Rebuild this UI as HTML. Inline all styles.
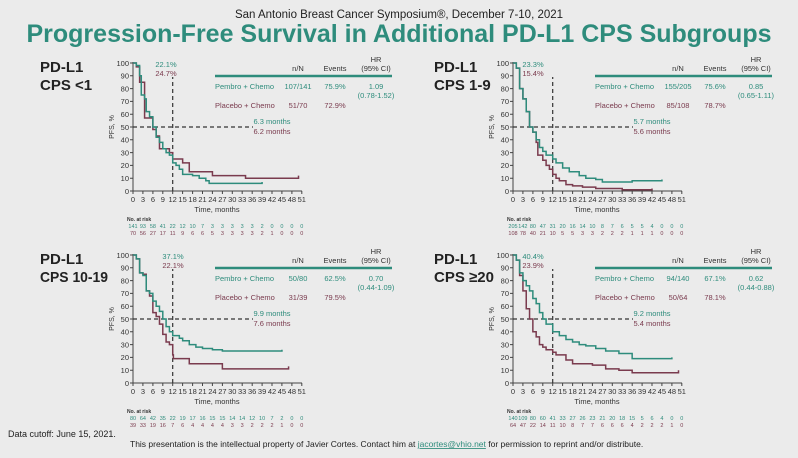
<!DOCTYPE html>
<html><head><meta charset="utf-8"><style>
html,body{margin:0;padding:0;background:#ebebeb;}
svg{display:block;font-family:"Liberation Sans",sans-serif;}
.t{fill:#2e8c7c}.m{fill:#7a3b4e}.k{fill:#222}
.ax{stroke:#444;stroke-width:1;fill:none}
.tl{font-size:7.5px;fill:#333}
.ar{font-size:5.5px}
.pl{fill:none;stroke-width:1.5;vector-effect:non-scaling-stroke}
.ds{fill:none;stroke:#333;stroke-width:1.2;stroke-dasharray:4 3;vector-effect:non-scaling-stroke}
.lb{font-size:15px;font-weight:bold;fill:#222}
</style></head><body>
<svg width="798" height="458" viewBox="0 0 798 458" xmlns="http://www.w3.org/2000/svg">
<rect width="798" height="458" fill="#ebebeb"/>
<text x="399" y="18" text-anchor="middle" font-size="11.5" class="k">San Antonio Breast Cancer Symposium®, December 7-10, 2021</text>
<text x="399" y="42" text-anchor="middle" font-size="25" font-weight="bold" class="t">Progression-Free Survival in Additional PD-L1 CPS Subgroups</text>

<defs>
<g id="axes">
<path class="ax" d="M133 62 V191 H302"/>
<path class="ax" d="M130 191.0h3M130 178.2h3M130 165.4h3M130 152.6h3M130 139.8h3M130 127h3M130 114.2h3M130 101.4h3M130 88.6h3M130 75.8h3M130 63h3"/>
<path class="ax" d="M133 191v3M142.9 191v3M152.9 191v3M162.8 191v3M172.7 191v3M182.6 191v3M192.6 191v3M202.5 191v3M212.4 191v3M222.4 191v3M232.3 191v3M242.2 191v3M252.2 191v3M262.1 191v3M272 191v3M281.9 191v3M291.9 191v3M301.8 191v3"/>
<g class="tl" text-anchor="end">
<text x="129" y="194">0</text><text x="129" y="181">10</text><text x="129" y="168">20</text><text x="129" y="155.5">30</text><text x="129" y="142.5">40</text><text x="129" y="130">50</text><text x="129" y="117">60</text><text x="129" y="104">70</text><text x="129" y="91.5">80</text><text x="129" y="78.5">90</text><text x="129" y="66">100</text>
</g>
<g class="tl" text-anchor="middle">
<text x="133" y="202">0</text><text x="142.9" y="202">3</text><text x="152.9" y="202">6</text><text x="162.8" y="202">9</text><text x="172.7" y="202">12</text><text x="182.6" y="202">15</text><text x="192.6" y="202">18</text><text x="202.5" y="202">21</text><text x="212.4" y="202">24</text><text x="222.4" y="202">27</text><text x="232.3" y="202">30</text><text x="242.2" y="202">33</text><text x="252.2" y="202">36</text><text x="262.1" y="202">39</text><text x="272" y="202">42</text><text x="281.9" y="202">45</text><text x="291.9" y="202">48</text><text x="301.8" y="202">51</text>
<text x="217" y="212" font-size="7.5">Time, months</text>
</g>
<text transform="translate(114,127) rotate(-90)" text-anchor="middle" font-size="7" fill="#333">PFS, %</text>
<text x="127" y="221" font-size="5" font-weight="bold" fill="#333">No. at risk</text>
<path d="M133 127 H253 M172.7 191 V77" class="ds"/>
<path d="M215 76 H392" stroke="#2e8c7c" stroke-width="2.5"/>
<g font-size="7.5" text-anchor="middle" fill="#333"><text x="298" y="71">n/N</text><text x="335" y="71">Events</text><text x="376" y="62">HR</text><text x="376" y="71">(95% CI)</text></g>
<text x="215" y="89" font-size="7.5" class="t">Pembro + Chemo</text>
<text x="215" y="108" font-size="7.5" class="m">Placebo + Chemo</text>
</g>
</defs>

<!-- Panel 1 -->
<g>
<use href="#axes"/>
<text x="40" y="72" class="lb">PD-L1</text>
<text x="40" y="90" class="lb">CPS &lt;1</text>
<g font-size="7.5" text-anchor="middle"><text x="298" y="89" class="t">107/141</text><text x="335" y="89" class="t">75.9%</text><text x="376" y="89" class="t">1.09</text><text x="376" y="98" class="t">(0.78-1.52)</text><text x="298" y="108" class="m">51/70</text><text x="335" y="108" class="m">72.9%</text>
<text x="166" y="67" class="t">22.1%</text><text x="166" y="76" class="m">24.7%</text><text x="272" y="124" class="t">6.3 months</text><text x="272" y="134" class="m">6.2 months</text></g>
<g transform="translate(133,191) scale(3.31,-1.28)">
<path class="pl" stroke="#7a3b4e" d="M0 100H1V97H2V85H3.5V57H5V57H6V48H7V43H8V33H10V33H11V30H12V25H15V22H17V15H24V12H34V10H50V12"/>
<path class="pl" stroke="#2e8c7c" d="M0 100H1V98H2V90H2.5V75H3.5V72H4V62H5V58H6V50H7V42H8V38H9V33H10V30H11V28H12V22H13V20H14V17H15V13H18V12H20V10H22V8H23V6H39V7"/>
</g>
<g class="ar" text-anchor="middle"><g class="t"><text x="133" y="228">141</text><text x="142.9" y="228">93</text><text x="152.9" y="228">58</text><text x="162.8" y="228">41</text><text x="172.7" y="228">22</text><text x="182.6" y="228">12</text><text x="192.6" y="228">10</text><text x="202.5" y="228">7</text><text x="212.4" y="228">3</text><text x="222.4" y="228">3</text><text x="232.3" y="228">3</text><text x="242.2" y="228">3</text><text x="252.2" y="228">3</text><text x="262.1" y="228">2</text><text x="272" y="228">0</text><text x="281.9" y="228">0</text><text x="291.9" y="228">0</text><text x="301.8" y="228">0</text></g>
<g class="m"><text x="133" y="235">70</text><text x="142.9" y="235">56</text><text x="152.9" y="235">27</text><text x="162.8" y="235">17</text><text x="172.7" y="235">11</text><text x="182.6" y="235">9</text><text x="192.6" y="235">6</text><text x="202.5" y="235">6</text><text x="212.4" y="235">5</text><text x="222.4" y="235">3</text><text x="232.3" y="235">3</text><text x="242.2" y="235">3</text><text x="252.2" y="235">3</text><text x="262.1" y="235">2</text><text x="272" y="235">1</text><text x="281.9" y="235">0</text><text x="291.9" y="235">0</text><text x="301.8" y="235">0</text></g></g>
</g>

<!-- Panel 2 -->
<g transform="translate(380,0)">
<use href="#axes"/>
<text x="54" y="72" class="lb">PD-L1</text>
<text x="54" y="90" class="lb">CPS 1-9</text>
<g font-size="7.5" text-anchor="middle"><text x="298" y="89" class="t">155/205</text><text x="335" y="89" class="t">75.6%</text><text x="376" y="89" class="t">0.85</text><text x="376" y="98" class="t">(0.65-1.11)</text><text x="298" y="108" class="m">85/108</text><text x="335" y="108" class="m">78.7%</text>
<text x="153" y="67" class="t">23.3%</text><text x="153" y="76" class="m">15.4%</text><text x="272" y="124" class="t">5.7 months</text><text x="272" y="134" class="m">5.6 months</text></g>
<g transform="translate(133,191) scale(3.31,-1.28)">
<path class="pl" stroke="#7a3b4e" d="M0 100H1V96H2V80H3V72H4V62H5V50H6V46H7V38H7.5V28H9V24H10V20H11V17H12V13H13V10H14V8H16V5H18V4H21V3H25V2H33V1H42V2"/>
<path class="pl" stroke="#2e8c7c" d="M0 100H1V96H2V80H3V72H4V62H5V50H6V46H7V40H8V34H9V31H10V28H12V25H13V22H15V18H17V15H20V12H22V10H25V9H27V7H36V8H45V9"/>
</g>
<g class="ar" text-anchor="middle"><g class="t"><text x="133" y="228">205</text><text x="142.9" y="228">142</text><text x="152.9" y="228">80</text><text x="162.8" y="228">47</text><text x="172.7" y="228">31</text><text x="182.6" y="228">20</text><text x="192.6" y="228">16</text><text x="202.5" y="228">14</text><text x="212.4" y="228">10</text><text x="222.4" y="228">8</text><text x="232.3" y="228">7</text><text x="242.2" y="228">6</text><text x="252.2" y="228">5</text><text x="262.1" y="228">5</text><text x="272" y="228">4</text><text x="281.9" y="228">0</text><text x="291.9" y="228">0</text><text x="301.8" y="228">0</text></g>
<g class="m"><text x="133" y="235">108</text><text x="142.9" y="235">78</text><text x="152.9" y="235">40</text><text x="162.8" y="235">21</text><text x="172.7" y="235">10</text><text x="182.6" y="235">5</text><text x="192.6" y="235">5</text><text x="202.5" y="235">3</text><text x="212.4" y="235">3</text><text x="222.4" y="235">2</text><text x="232.3" y="235">2</text><text x="242.2" y="235">2</text><text x="252.2" y="235">1</text><text x="262.1" y="235">1</text><text x="272" y="235">1</text><text x="281.9" y="235">0</text><text x="291.9" y="235">0</text><text x="301.8" y="235">0</text></g></g>
</g>

<!-- Panel 3 -->
<g transform="translate(0,192)">
<use href="#axes"/>
<text x="40" y="72" class="lb">PD-L1</text>
<text x="40" y="90" class="lb" textLength="68" lengthAdjust="spacingAndGlyphs">CPS 10-19</text>
<g font-size="7.5" text-anchor="middle"><text x="298" y="89" class="t">50/80</text><text x="335" y="89" class="t">62.5%</text><text x="376" y="89" class="t">0.70</text><text x="376" y="98" class="t">(0.44-1.09)</text><text x="298" y="108" class="m">31/39</text><text x="335" y="108" class="m">79.5%</text>
<text x="173" y="67" class="t">37.1%</text><text x="173" y="76" class="m">22.1%</text><text x="272" y="124" class="t">9.9 months</text><text x="272" y="134" class="m">7.6 months</text></g>
<g transform="translate(133,191) scale(3.31,-1.28)">
<path class="pl" stroke="#7a3b4e" d="M0 100H1V97H2V86H3V85H4V72H5V68H6V55H7V52H8V46H9V38H10V32H11V30H12V22H12.2V19H17V15H27V11H47V13"/>
<path class="pl" stroke="#2e8c7c" d="M0 100H1V97H2V86H3V84H4V72H5V70H6V64H7V60H8V56H9V50H10V44H11V40H12V37H14V35H15V33H17V30H19V28H21V27H24V26H27V25H45V26"/>
</g>
<g class="ar" text-anchor="middle"><g class="t"><text x="133" y="228">80</text><text x="142.9" y="228">64</text><text x="152.9" y="228">42</text><text x="162.8" y="228">35</text><text x="172.7" y="228">22</text><text x="182.6" y="228">19</text><text x="192.6" y="228">17</text><text x="202.5" y="228">16</text><text x="212.4" y="228">15</text><text x="222.4" y="228">15</text><text x="232.3" y="228">14</text><text x="242.2" y="228">14</text><text x="252.2" y="228">12</text><text x="262.1" y="228">10</text><text x="272" y="228">7</text><text x="281.9" y="228">2</text><text x="291.9" y="228">0</text><text x="301.8" y="228">0</text></g>
<g class="m"><text x="133" y="235">39</text><text x="142.9" y="235">33</text><text x="152.9" y="235">19</text><text x="162.8" y="235">16</text><text x="172.7" y="235">7</text><text x="182.6" y="235">6</text><text x="192.6" y="235">4</text><text x="202.5" y="235">4</text><text x="212.4" y="235">4</text><text x="222.4" y="235">4</text><text x="232.3" y="235">3</text><text x="242.2" y="235">3</text><text x="252.2" y="235">2</text><text x="262.1" y="235">2</text><text x="272" y="235">2</text><text x="281.9" y="235">1</text><text x="291.9" y="235">0</text><text x="301.8" y="235">0</text></g></g>
</g>

<!-- Panel 4 -->
<g transform="translate(380,192)">
<use href="#axes"/>
<text x="54" y="72" class="lb">PD-L1</text>
<text x="54" y="90" class="lb">CPS ≥20</text>
<g font-size="7.5" text-anchor="middle"><text x="298" y="89" class="t">94/140</text><text x="335" y="89" class="t">67.1%</text><text x="376" y="89" class="t">0.62</text><text x="376" y="98" class="t">(0.44-0.88)</text><text x="298" y="108" class="m">50/64</text><text x="335" y="108" class="m">78.1%</text>
<text x="153" y="67" class="t">40.4%</text><text x="153" y="76" class="m">23.9%</text><text x="272" y="124" class="t">9.2 months</text><text x="272" y="134" class="m">5.4 months</text></g>
<g transform="translate(133,191) scale(3.31,-1.28)">
<path class="pl" stroke="#7a3b4e" d="M0 100H1V96H2V84H3V72H4V58H5V50H6V40H7V36H8V30H9V28H10V26H12V24H13V22H16V18H18V15H24V14H28V11H32V10H36V8H50V10"/>
<path class="pl" stroke="#2e8c7c" d="M0 100H1V96H2V86H3V80H4V76H5V72H6V66H7V62H8V55H9V50H10V46H12V40H14V37H16V34H18V32H20V30H22V29H25V27H28V25H32V23H36V19H48V20"/>
</g>
<g class="ar" text-anchor="middle"><g class="t"><text x="133" y="228">140</text><text x="142.9" y="228">109</text><text x="152.9" y="228">80</text><text x="162.8" y="228">60</text><text x="172.7" y="228">41</text><text x="182.6" y="228">33</text><text x="192.6" y="228">27</text><text x="202.5" y="228">26</text><text x="212.4" y="228">23</text><text x="222.4" y="228">21</text><text x="232.3" y="228">20</text><text x="242.2" y="228">18</text><text x="252.2" y="228">15</text><text x="262.1" y="228">5</text><text x="272" y="228">6</text><text x="281.9" y="228">4</text><text x="291.9" y="228">0</text><text x="301.8" y="228">0</text></g>
<g class="m"><text x="133" y="235">64</text><text x="142.9" y="235">47</text><text x="152.9" y="235">22</text><text x="162.8" y="235">14</text><text x="172.7" y="235">11</text><text x="182.6" y="235">10</text><text x="192.6" y="235">8</text><text x="202.5" y="235">7</text><text x="212.4" y="235">7</text><text x="222.4" y="235">6</text><text x="232.3" y="235">6</text><text x="242.2" y="235">6</text><text x="252.2" y="235">4</text><text x="262.1" y="235">2</text><text x="272" y="235">2</text><text x="281.9" y="235">2</text><text x="291.9" y="235">1</text><text x="301.8" y="235">0</text></g></g>
</g>

<text x="8" y="437" font-size="9" class="k">Data cutoff: June 15, 2021.</text>
<text x="130" y="447" font-size="8.5" class="k">This presentation is the intellectual property of Javier Cortes. Contact him at <tspan fill="#2e8c7c" text-decoration="underline">jacortes@vhio.net</tspan> for permission to reprint and/or distribute.</text>
</svg>
</body></html>
